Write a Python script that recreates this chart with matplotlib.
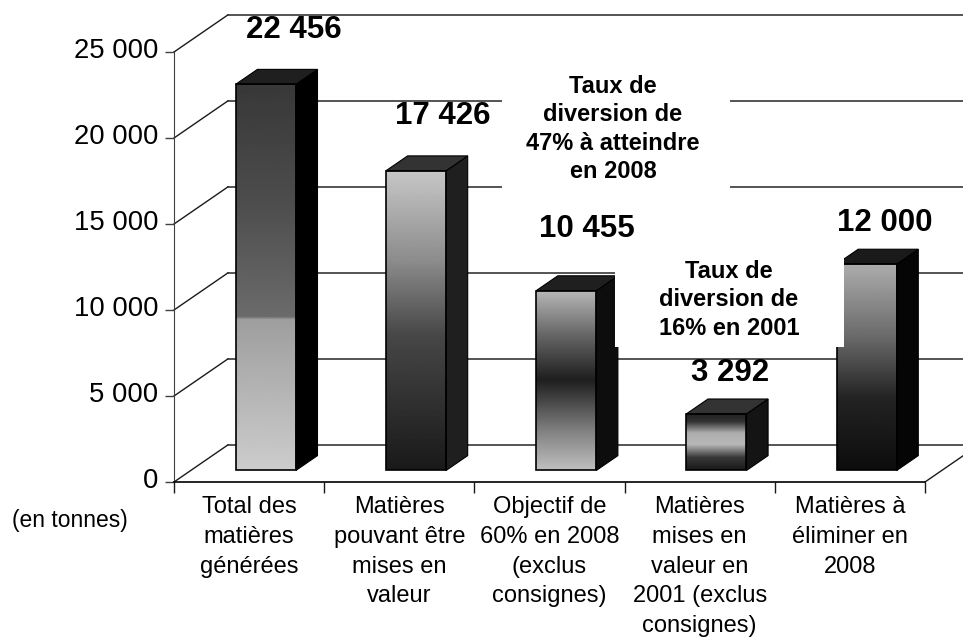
#!/usr/bin/env python3
"""
3D-look bar chart of tonnages (matieres generees / mises en valeur).
"""

import matplotlib
matplotlib.use("Agg")
import matplotlib.pyplot as plt
import matplotlib.transforms as mtrans
import numpy as np
from matplotlib.patches import Polygon, Rectangle

W, H = 963, 637

# Data
categories = [
    "Total des\nmatières\ngénérées",
    "Matières\npouvant être\nmises en\nvaleur",
    "Objectif de\n60% en 2008\n(exclus\nconsignes)",
    "Matières\nmises en\nvaleur en\n2001 (exclus\nconsignes)",
    "Matières à\néliminer en\n2008",
]
values = [22456, 17426, 10455, 3292, 12000]
y_ticks = [0, 5000, 10000, 15000, 20000, 25000]
y_tick_labels = ["0", "5 000", "10 000", "15 000", "20 000", "25 000"]

# gray ramps of the bar fronts, (fraction from bottom, gray level)
ramps = [
    [(0, 0.80), (0.39, 0.62), (0.395, 0.42), (0.7, 0.30), (1, 0.22)],
    [(0, 0.10), (0.45, 0.28), (0.7, 0.55), (1, 0.78)],
    [(0, 0.75), (0.22, 0.50), (0.5, 0.12), (0.75, 0.40), (1, 0.72)],
    [(0, 0.10), (0.22, 0.22), (0.45, 0.72), (0.65, 0.68), (0.85, 0.2), (1, 0.12)],
    [(0, 0.05), (0.35, 0.14), (0.65, 0.42), (1, 0.68)],
]
side_grays = ["0.0", "0.12", "0.05", "0.08", "0.02"]
top_grays = ["0.12", "0.2", "0.12", "0.2", "0.1"]

# 3D projection, one unit of depth in data units
DEPTH_X = 54 / 150.2
DEPTH_Y = 2160
BAR_W = 0.40
Z_FRONT = 0.31
Z_BACK = 0.71


def proj(x, y, z):
    return x + z * DEPTH_X, y + z * DEPTH_Y


def fig_xy(px, py):
    return px / W, 1 - py / H


fig = plt.figure(figsize=(W / 100, H / 100), dpi=100)
plt.rcParams["font.family"] = ["Liberation Sans", "DejaVu Sans"]
ax = fig.add_axes([174 / W, 1 - 482 / H, (925 - 174) / W, (482 - 52) / H])
ax.patch.set_alpha(0)

# walls and floor
for tick in y_ticks:
    x0, y0 = proj(0, tick, 1)
    x1, _ = proj(5.2, tick, 1)
    ax.plot([0, x0], [tick, y0], color="0.1", lw=1, clip_on=False, zorder=1)
    ax.plot([x0, x1], [y0, y0], color="0.15", lw=1.1, clip_on=False, zorder=1)
ex, ey = proj(5, 0, 1)
ax.plot([5, ex], [0, ey], color="0.1", lw=1, clip_on=False, zorder=1)

# bars
for i, value in enumerate(values):
    left = i + 0.5 - BAR_W / 2
    right = left + BAR_W
    x0, y0 = proj(left, 0, Z_FRONT)
    x1, y1 = proj(right, value, Z_FRONT)

    stops = np.array(ramps[i])
    levels = np.interp(np.linspace(0, 1, 256), stops[:, 0], stops[:, 1])
    ax.imshow(levels[:, None], extent=[x0, x1, y0, y1], origin="lower", aspect="auto",
              cmap="gray", vmin=0, vmax=1, zorder=3)
    ax.add_patch(Rectangle((x0, y0), x1 - x0, y1 - y0, fill=False, ec="black", lw=1.2, zorder=4))

    side = [proj(right, 0, Z_FRONT), proj(right, 0, Z_BACK),
            proj(right, value, Z_BACK), proj(right, value, Z_FRONT)]
    top = [proj(left, value, Z_FRONT), proj(left, value, Z_BACK),
           proj(right, value, Z_BACK), proj(right, value, Z_FRONT)]
    ax.add_patch(Polygon(side, fc=side_grays[i], ec="black", lw=0.8, zorder=3, clip_on=False))
    ax.add_patch(Polygon(top, fc=top_grays[i], ec="black", lw=0.8, zorder=3, clip_on=False))

ax.set_xlim(0, 5)
ax.set_ylim(0, 25000)

# axes
ax.spines["top"].set_visible(False)
ax.spines["right"].set_visible(False)
ax.spines["left"].set_color("0.25")
ax.spines["bottom"].set_linewidth(1.2)
ax.set_xticks(range(6))
ax.set_xticklabels([])
ax.tick_params(axis="x", length=8, width=1, color="0.1")
ax.set_yticks(y_ticks)
ax.set_yticklabels(y_tick_labels, fontsize=19.8)
ax.tick_params(axis="y", length=6.5, width=1, color="0.25", pad=5)
raise_labels = mtrans.ScaledTranslation(0, 4 / 100, fig.dpi_scale_trans)
for label in ax.get_yticklabels():
    label.set_transform(label.get_transform() + raise_labels)

# white boxes of the annotations hide grid and bar parts
for px0, py0, px1, py1 in [(502, 60, 730, 215), (615, 240, 844, 347)]:
    fx0, fy0 = fig_xy(px0, py1)
    fx1, fy1 = fig_xy(px1, py0)
    ax.add_patch(Rectangle((fx0, fy0), fx1 - fx0, fy1 - fy0, transform=fig.transFigure,
                           fc="white", ec="none", zorder=6, clip_on=False))

# value labels
label_pos = [(294, 30), (443, 116), (587, 229), (730, 373), (885, 223)]
for value, (px, py) in zip(values, label_pos):
    fig.text(*fig_xy(px, py), f"{value:,}".replace(",", " "), fontsize=22.5, fontweight="bold",
             ha="center", va="center", zorder=8)

fig.text(*fig_xy(613, 129), "Taux de\ndiversion de\n47% à atteindre\nen 2008", fontsize=17,
         fontweight="bold", ha="center", va="center", linespacing=1.28, zorder=8)
fig.text(*fig_xy(729, 300), "Taux de\ndiversion de\n16% en 2001", fontsize=17,
         fontweight="bold", ha="center", va="center", linespacing=1.28, zorder=8)

# category labels
for i, label in enumerate(categories):
    ax.annotate(label, xy=(i + 0.5, 0), xycoords="data", xytext=(0, -14), textcoords="offset pixels",
                ha="center", va="top", fontsize=17, linespacing=1.46, annotation_clip=False)

fig.text(*fig_xy(70, 520), "(en tonnes)", fontsize=16.5, ha="center", va="center")

fig.savefig("out.png", dpi=100)
